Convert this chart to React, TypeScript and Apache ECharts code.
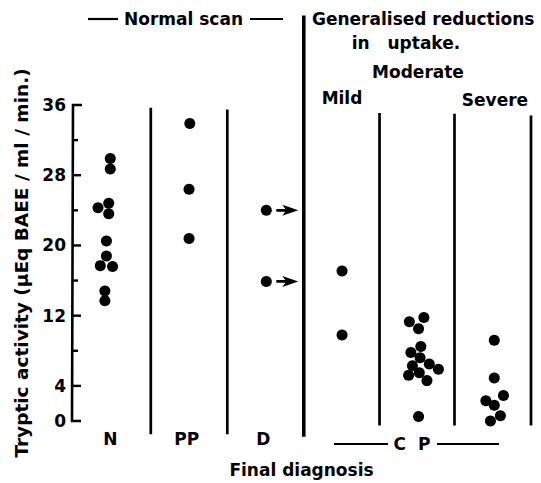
import React, { useEffect, useRef } from "react";
import * as echarts from "echarts";

// Category labels on the x axis (only the first three are printed under the axis)
const categories = ["N", "PP", "D", "Mild", "Moderate", "Severe"];
const axisCategoryLabels = ["N", "PP", "D", "", "", ""];

// Tryptic activity values (µEq BAEE / ml / min.) per group
const nValues = [29.9, 28.7, 24.8, 24.3, 23.6, 20.5, 18.8, 17.7, 17.6, 14.8, 13.7];
const nJitter = [0.0, 0.0, -0.02, -0.16, -0.02, -0.05, -0.05, -0.13, 0.03, -0.07, -0.07];

const ppValues = [33.9, 26.4, 20.8];
const ppJitter = [0.04, 0.03, 0.03];

const dValues = [24.0, 15.9];
const dJitter = [0.04, 0.04];

const mildValues = [17.1, 9.8];
const mildJitter = [0.03, 0.03];

const moderateValues = [11.8, 11.3, 10.5, 8.5, 7.8, 7.2, 6.5, 6.3, 5.9, 5.5, 5.2, 4.6, 0.5];
const moderateJitter = [0.1, -0.09, 0.03, 0.06, -0.07, 0.05, 0.17, -0.05, 0.29, 0.04, -0.1, 0.14, 0.03];

const severeValues = [9.2, 4.9, 2.9, 2.3, 1.8, 0.6, 0.0];
const severeJitter = [0.02, 0.02, 0.14, -0.09, 0.02, 0.1, -0.03];

// y-axis ticks, and the ones that carry a label
const yTicks = [0, 4, 8, 12, 16, 20, 24, 28, 32, 36];
const yTickLabels = [0, 4, 12, 20, 28, 36];

// group separators: [boundary after category k (1..6), top value, bottom value, thick?]
const separators: [number, number, number, number][] = [
  [1.03, 35.7, -1.5, 0],
  [2.03, 35.5, -1.5, 0],
  [3.03, 46.2, -1.8, 1],
  [4.02, 35.1, -0.5, 0],
  [5.0, 35.0, -0.5, 0],
  [6.0, 34.8, -0.5, 0],
];

const groups = [
  { values: nValues, jitter: nJitter },
  { values: ppValues, jitter: ppJitter },
  { values: dValues, jitter: dJitter },
  { values: mildValues, jitter: mildJitter },
  { values: moderateValues, jitter: moderateJitter },
  { values: severeValues, jitter: severeJitter },
];

const FONT = "DejaVu Sans";
const FS = 17;
const FW = "bold";

export default function App() {
  const ref = useRef<HTMLDivElement>(null);

  useEffect(() => {
    if (!ref.current) return;
    const chart = echarts.init(ref.current, undefined, { renderer: "svg" });

    // category k is centred at k + 0.5 on the hidden value axis
    const points: number[][] = [];
    groups.forEach((g, gi) => {
      g.values.forEach((v, i) => points.push([gi + 0.5 + g.jitter[i], v]));
    });
    const dIndex = categories.indexOf("D");
    const arrowPoints = dValues.map((v, i) => [dIndex + 0.5 + dJitter[i], v]);
    const yMin = yTicks[0];
    const yMax = yTicks[yTicks.length - 1];

    const textStyle = (x: number, y: number, text: string, align = "left") => ({
      type: "text",
      x,
      y,
      style: {
        text,
        fontFamily: FONT,
        fontSize: FS,
        fontWeight: FW,
        fill: "#000",
        align,
        verticalAlign: "middle",
      },
    });
    const hline = (x1: number, x2: number, y: number) => ({
      type: "line",
      shape: { x1, y1: y, x2, y2: y },
      style: { stroke: "#000", lineWidth: 2.2 },
    });
    const axisText = { fontFamily: FONT, fontSize: FS, fontWeight: FW, color: "#000" };

    chart.setOption({
      animation: false,
      backgroundColor: "#fff",
      grid: { left: 72, right: 10, top: 105, bottom: 59 },
      xAxis: [
        {
          type: "category",
          data: axisCategoryLabels,
          boundaryGap: true,
          axisLine: { show: false },
          axisTick: { show: false },
          axisLabel: { ...axisText, margin: 9 },
          name: "Final diagnosis",
          nameLocation: "middle",
          nameGap: 40,
          nameTextStyle: axisText,
          splitLine: { show: false },
        },
        {
          type: "value",
          min: 0,
          max: 6,
          axisLine: { show: false },
          axisTick: { show: false },
          axisLabel: { show: false },
          splitLine: { show: false },
        },
      ],
      yAxis: {
        type: "value",
        min: yMin,
        max: yMax,
        interval: 4,
        axisLine: { show: false },
        axisTick: { show: false },
        axisLabel: {
          ...axisText,
          margin: 6,
          formatter: (v: number) => (yTickLabels.includes(v) ? String(v) : ""),
        },
        splitLine: { show: false },
        name: "Tryptic activity (µEq BAEE / ml / min.)",
        nameLocation: "middle",
        nameGap: 38,
        nameRotate: 90,
        nameTextStyle: { ...axisText, fontSize: 18.5 },
      },
      series: [
        {
          // y axis drawn as a bracket: top tick, rule, bottom tick
          type: "custom",
          xAxisIndex: 1,
          clip: false,
          z: 10,
          data: [[0, yMin, yMax]],
          renderItem: (params: any, api: any) => {
            const b = api.coord([api.value(0), api.value(1)]);
            const t = api.coord([api.value(0), api.value(2)]);
            return {
              type: "polyline",
              shape: {
                points: [
                  [t[0] + 10, t[1]],
                  [t[0] + 1, t[1]],
                  [b[0], b[1]],
                  [b[0] + 9, b[1]],
                ],
              },
              style: { stroke: "#000", lineWidth: 2.6, fill: null },
            };
          },
        },
        {
          // inner y axis ticks (pointing inwards)
          type: "custom",
          xAxisIndex: 1,
          clip: false,
          z: 10,
          data: yTicks.slice(1, -1).map((t) => [0, t]),
          renderItem: (params: any, api: any) => {
            const p = api.coord([api.value(0), api.value(1)]);
            const labelled = yTickLabels.includes(api.value(1));
            return {
              type: "line",
              shape: { x1: p[0], y1: p[1], x2: p[0] + (labelled ? 9 : 6), y2: p[1] },
              style: { stroke: "#000", lineWidth: 2.4 },
            };
          },
        },
        {
          // group separators
          type: "custom",
          xAxisIndex: 1,
          clip: false,
          data: separators,
          renderItem: (params: any, api: any) => {
            const x = api.value(0);
            const p1 = api.coord([x, api.value(1)]);
            const p2 = api.coord([x, api.value(2)]);
            return {
              type: "line",
              shape: { x1: p1[0], y1: p1[1], x2: p2[0], y2: p2[1] },
              style: { stroke: "#000", lineWidth: api.value(3) ? 3.6 : 2.7 },
            };
          },
        },
        {
          type: "scatter",
          xAxisIndex: 1,
          clip: false,
          symbol: "circle",
          symbolSize: 11,
          itemStyle: { color: "#000", opacity: 1 },
          data: points,
        },
        {
          type: "scatter",
          xAxisIndex: 1,
          clip: false,
          symbol: "path://M0,4.5 L10,4.5 L10,7.5 L0,7.5 Z M6,0 L22,6 L6,12 L10,6 Z",
          symbolSize: [22, 11],
          symbolOffset: [21, 0],
          itemStyle: { color: "#000", opacity: 1 },
          data: arrowPoints,
        },
      ],
      graphic: {
        elements: [
          hline(88, 118, 19),
          textStyle(124, 19, "Normal scan"),
          hline(250, 283, 19),
          textStyle(312, 19, "Generalised reductions"),
          textStyle(406, 43, "in   uptake.", "center"),
          textStyle(418, 72, "Moderate", "center"),
          textStyle(342, 98, "Mild", "center"),
          textStyle(495, 100, "Severe", "center"),
          hline(334, 388, 444),
          textStyle(412, 444, "C  P", "center"),
          hline(437, 499, 444),
        ],
      },
    });

    return () => chart.dispose();
  }, []);

  return (
    <div
      ref={ref}
      style={{ position: "fixed", left: 0, top: 0, width: 541, height: 483, background: "#fff" }}
    />
  );
}
